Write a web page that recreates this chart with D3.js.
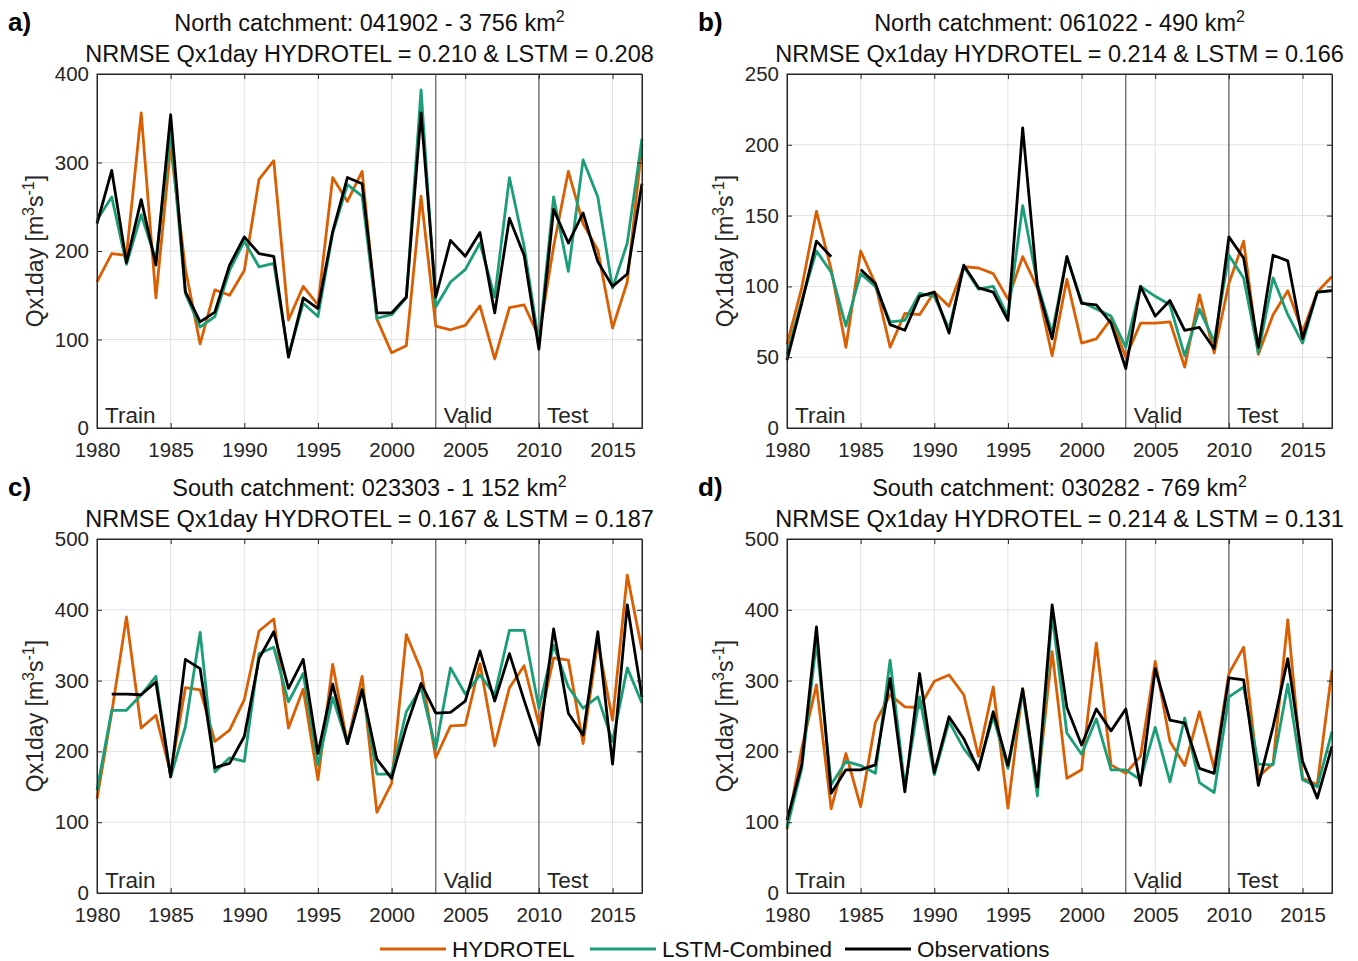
<!DOCTYPE html>
<html>
<head>
<meta charset="utf-8">
<script src="https://cdn.jsdelivr.net/npm/d3@7"></script>
<style>
  body { margin: 0; background: #fff; }
  svg { font-family: "Liberation Sans", Arial, sans-serif; }
</style>
</head>
<body>
<svg id="chart" width="1358" height="961"></svg>
<script>
const years = d3.range(1980, 2018)
const xTicks = [1980, 1985, 1990, 1995, 2000, 2005, 2010, 2015]
const splitYears = [2003, 2010]

// a) North catchment 041902
const hydA = [165, 197, 195, 356, 147, 318, 180, 95, 156, 150, 178, 281, 302, 122, 160, 139, 283, 256, 290,
  123, 85, 93, 262, 115, 111, 116, 138, 78, 136, 139, 103, 205, 290, 231, 201, 113, 165, 320]
const lstmA = [235, 261, 185, 241, 190, 333, 152, 114, 126, 178, 211, 182, 186, 82, 141, 126, 220, 275, 262,
  124, 128, 147, 382, 137, 165, 179, 209, 148, 283, 205, 96, 261, 177, 303, 261, 158, 209, 327]
const obsA = [231, 291, 187, 258, 184, 354, 154, 120, 131, 184, 216, 197, 194, 80, 147, 135, 222, 283, 276,
  130, 130, 148, 356, 148, 212, 194, 221, 130, 237, 195, 89, 247, 209, 243, 188, 160, 174, 276]

// b) North catchment 061022
const hydB = [59, 99, 153, 112, 57, 125, 102, 57, 81, 80, 96, 86, 114, 113, 109, 91, 121, 99, 51,
  105, 60, 63, 77, 50, 74, 74, 75, 43, 94, 53, 102, 132, 52, 80, 97, 68, 96, 107]
const lstmB = [52, 90, 125, 110, 72, 109, 100, 75, 76, 95, 93, 70, 114, 98, 100, 79, 157, 102, 67,
  121, 89, 84, 79, 57, 100, 93, 87, 51, 84, 61, 122, 106, 53, 106, 80, 60, 96, 97]
const obsB = [48, 88, 132, 121, null, 112, 102, 73, 69, 93, 96, 67, 115, 99, 96, 76, 212, 100, 63,
  121, 88, 87, 74, 42, 100, 79, 90, 69, 71, 56, 135, 120, 57, 122, 118, 63, 96, 97]

// c) South catchment 023303
const hydC = [133, 255, 390, 233, 251, 169, 290, 287, 214, 230, 273, 370, 387, 233, 288, 160, 323, 211, 306,
  114, 155, 365, 315, 191, 236, 237, 324, 208, 290, 321, 238, 332, 329, 211, 355, 244, 449, 343]
const lstmC = [145, 258, 258, 280, 306, 164, 235, 368, 171, 191, 186, 338, 347, 270, 310, 181, 276, 211, 288,
  168, 168, 256, 290, 204, 318, 281, 308, 280, 371, 371, 261, 350, 291, 261, 277, 214, 318, 268]
const obsC = [null, 281, 281, 280, 298, 164, 330, 317, 177, 183, 221, 331, 369, 289, 330, 197, 295, 211, 287,
  189, 162, 235, 296, 254, 255, 271, 342, 271, 338, 272, 209, 373, 254, 223, 369, 182, 407, 277]

// d) South catchment 030282
const hydD = [90, 204, 294, 119, 197, 122, 241, 280, 263, 262, 299, 308, 280, 193, 291, 120, 289, 148, 341,
  162, 174, 353, 181, 169, 193, 327, 214, 180, 256, 176, 310, 347, 164, 183, 386, 162, 153, 315]
const lstmD = [92, 176, 355, 153, 186, 180, 169, 329, 150, 277, 167, 242, 204, 177, 249, 176, 284, 137, 393,
  226, 196, 246, 174, 174, 160, 234, 157, 247, 156, 142, 277, 291, 182, 181, 295, 160, 150, 228]
const obsD = [103, 181, 376, 141, 174, 174, 181, 303, 143, 310, 170, 249, 218, 174, 256, 180, 288, 150, 407,
  262, 209, 260, 229, 260, 152, 317, 244, 240, 176, 169, 304, 301, 152, 235, 331, 186, 134, 207]

const seriesNames = ['HYDROTEL', 'LSTM-Combined', 'Observations']
const seriesColours = ['#d95f02', '#1b9e77', '#000000']

const panels = [
  { label: 'a)', code: '041902', region: 'North', area: '3 756', nrmseH: '0.210', nrmseL: '0.208',
    yMax: 400, yStep: 100, data: [hydA, lstmA, obsA], left: 97, top: 74 },
  { label: 'b)', code: '061022', region: 'North', area: '490', nrmseH: '0.214', nrmseL: '0.166',
    yMax: 250, yStep: 50, data: [hydB, lstmB, obsB], left: 787, top: 74 },
  { label: 'c)', code: '023303', region: 'South', area: '1 152', nrmseH: '0.167', nrmseL: '0.187',
    yMax: 500, yStep: 100, data: [hydC, lstmC, obsC], left: 97, top: 539 },
  { label: 'd)', code: '030282', region: 'South', area: '769', nrmseH: '0.214', nrmseL: '0.131',
    yMax: 500, yStep: 100, data: [hydD, lstmD, obsD], left: 787, top: 539 }
]

const plotW = 545
const plotH = 354
const axisColour = '#262626'
const gridColour = '#e1e1e1'

const svg = d3.select('#chart')

function drawPanel (p) {
  const g = svg.append('g').attr('transform', `translate(${p.left},${p.top})`)
  const x = d3.scaleLinear().domain([1980, 2017]).range([0, plotW])
  const y = d3.scaleLinear().domain([0, p.yMax]).range([plotH, 0])
  const yTicks = d3.range(0, p.yMax + 1, p.yStep)

  /* grid */
  g.append('g')
    .selectAll('line.vg')
    .data(xTicks.slice(1))
    .join('line')
      .attr('x1', d => x(d)).attr('x2', d => x(d))
      .attr('y1', 0).attr('y2', plotH)
      .attr('stroke', gridColour)
  g.append('g')
    .selectAll('line.hg')
    .data(yTicks.slice(1, -1))
    .join('line')
      .attr('x1', 0).attr('x2', plotW)
      .attr('y1', d => y(d)).attr('y2', d => y(d))
      .attr('stroke', gridColour)

  // train / valid / test split lines
  g.selectAll('line.split')
    .data(splitYears)
    .join('line')
      .attr('x1', d => x(d)).attr('x2', d => x(d))
      .attr('y1', 0).attr('y2', plotH)
      .attr('stroke', '#5a5a5a')
      .attr('stroke-width', 1.2)

  /* series: HYDROTEL, LSTM, obs on top */
  p.data.forEach((vals, i) => {
    const line = d3.line()
      .defined(d => d != null)
      .x((d, j) => x(years[j]))
      .y(d => y(d))
    g.append('path')
      .datum(vals)
      .attr('d', line)
      .attr('fill', 'none')
      .attr('stroke', seriesColours[i])
      .attr('stroke-width', 2.8)
      .attr('stroke-linejoin', 'round')
  })

  /* axes - MATLAB style, ticks inside on every side */
  g.append('g').attr('transform', `translate(0,${plotH})`)
    .call(d3.axisBottom(x).tickValues(xTicks).tickFormat(d3.format('d')).tickSizeInner(-5).tickSizeOuter(0).tickPadding(14))
  g.append('g')
    .call(d3.axisTop(x).tickValues(xTicks).tickFormat('').tickSizeInner(-5).tickSizeOuter(0))
  g.append('g')
    .call(d3.axisLeft(y).tickValues(yTicks).tickSizeInner(-5).tickSizeOuter(0).tickPadding(8))
  g.append('g').attr('transform', `translate(${plotW},0)`)
    .call(d3.axisRight(y).tickValues(yTicks).tickFormat('').tickSizeInner(-5).tickSizeOuter(0))
  g.selectAll('.domain').attr('stroke', axisColour)
  g.selectAll('.tick line').attr('stroke', axisColour)
  g.selectAll('.tick text')
    .attr('fill', axisColour)
    .attr('font-size', 20.5)
    .attr('font-family', '"Liberation Sans", Arial, sans-serif')

  // box edges
  g.append('rect')
    .attr('width', plotW).attr('height', plotH)
    .attr('fill', 'none').attr('stroke', axisColour)

  // period labels
  const periods = [['Train', 1980], ['Valid', 2003], ['Test', 2010]]
  g.selectAll('text.period')
    .data(periods)
    .join('text')
      .attr('x', d => x(d[1]) + 8)
      .attr('y', plotH - 5)
      .attr('font-size', 22.5)
      .attr('fill', axisColour)
      .text(d => d[0])

  /* titles */
  const t1 = g.append('text')
    .attr('x', plotW / 2).attr('y', -43)
    .attr('text-anchor', 'middle').attr('font-size', 23.5).attr('fill', '#111')
  t1.append('tspan').text(`${p.region} catchment: ${p.code} - ${p.area} km`)
  t1.append('tspan').attr('dy', -9).attr('font-size', 16).text('2')

  g.append('text')
    .attr('x', plotW / 2).attr('y', -12)
    .attr('text-anchor', 'middle').attr('font-size', 23.5).attr('fill', '#111')
    .text(`NRMSE Qx1day HYDROTEL = ${p.nrmseH} & LSTM = ${p.nrmseL}`)

  g.append('text')
    .attr('x', -89).attr('y', -43)
    .attr('font-size', 26).attr('font-weight', 'bold')
    .text(p.label)

  // y label
  const yl = g.append('text')
    .attr('transform', `translate(-54,${plotH / 2}) rotate(-90)`)
    .attr('text-anchor', 'middle').attr('font-size', 23).attr('fill', axisColour)
  yl.append('tspan').text('Qx1day [m')
  yl.append('tspan').attr('dy', -9).attr('font-size', 16).text('3')
  yl.append('tspan').attr('dy', 9).text('s')
  yl.append('tspan').attr('dy', -9).attr('font-size', 16).text('-1')
  yl.append('tspan').attr('dy', 9).text(']')
}

panels.forEach(drawPanel)

/* legend */
const legendX = [380, 590, 845]
const legend = svg.append('g')
seriesNames.forEach((name, i) => {
  legend.append('line')
    .attr('x1', legendX[i]).attr('x2', legendX[i] + 66)
    .attr('y1', 949).attr('y2', 949)
    .attr('stroke', seriesColours[i]).attr('stroke-width', 2.8)
  legend.append('text')
    .attr('x', legendX[i] + 72).attr('y', 957)
    .attr('font-size', 22.5).attr('fill', '#111')
    .text(name)
})
</script>
</body>
</html>
